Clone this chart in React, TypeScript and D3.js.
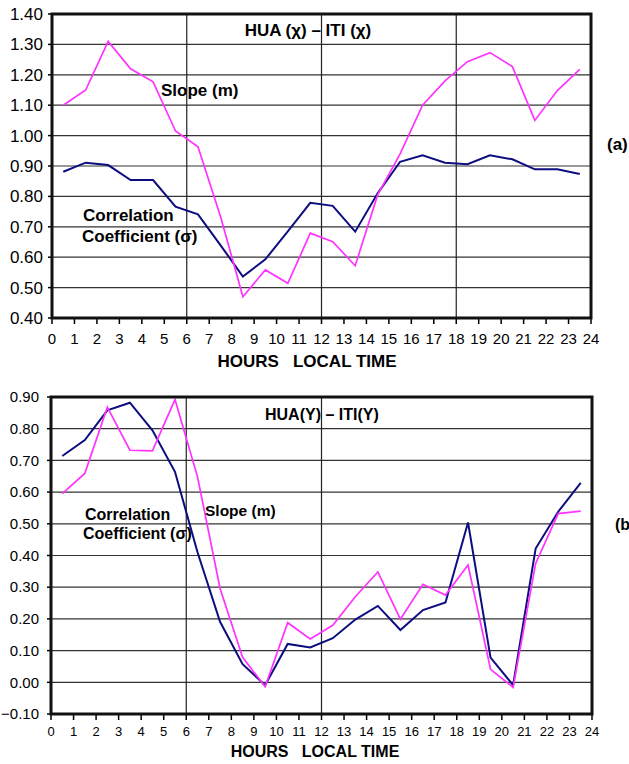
import React, { useEffect, useRef } from 'react';
import * as d3 from 'd3';

// half-hour centred samples, hours local time
const hours = [0.5, 1.5, 2.5, 3.5, 4.5, 5.5, 6.5, 7.5, 8.5, 9.5, 10.5, 11.5, 12.5, 13.5, 14.5, 15.5, 16.5, 17.5, 18.5, 19.5, 20.5, 21.5, 22.5, 23.5];
const hourTicks = [0, 1, 2, 3, 4, 5, 6, 7, 8, 9, 10, 11, 12, 13, 14, 15, 16, 17, 18, 19, 20, 21, 22, 23, 24];

// (a) HUA(X) - ITI(X)
const slopeX = [1.10, 1.15, 1.31, 1.22, 1.177, 1.015, 0.963, 0.735, 0.47, 0.558, 0.514, 0.679, 0.651, 0.572, 0.805, 0.94, 1.10, 1.18, 1.243, 1.273, 1.227, 1.05, 1.148, 1.218];
const corrX = [0.881, 0.911, 0.903, 0.854, 0.854, 0.766, 0.741, 0.64, 0.536, 0.593, 0.685, 0.779, 0.769, 0.684, 0.81, 0.914, 0.935, 0.911, 0.906, 0.935, 0.922, 0.889, 0.889, 0.874];
const yTicksX = [1.4, 1.3, 1.2, 1.1, 1.0, 0.9, 0.8, 0.7, 0.6, 0.5, 0.4];

// (b) HUA(Y) - ITI(Y)
const slopeY = [0.595, 0.659, 0.868, 0.732, 0.73, 0.892, 0.648, 0.296, 0.079, -0.014, 0.188, 0.137, 0.18, 0.27, 0.348, 0.199, 0.309, 0.275, 0.37, 0.041, -0.016, 0.375, 0.532, 0.54];
const corrY = [0.714, 0.764, 0.858, 0.882, 0.795, 0.664, 0.41, 0.191, 0.057, -0.009, 0.121, 0.11, 0.139, 0.198, 0.241, 0.165, 0.228, 0.252, 0.504, 0.078, -0.009, 0.422, 0.538, 0.629];
const yTicksY = [0.9, 0.8, 0.7, 0.6, 0.5, 0.4, 0.3, 0.2, 0.1, 0.0, -0.1];

const FONT = 'Liberation Sans, Arial, sans-serif';

interface TextSpec {
  text: string;
  x: number;
  y: number;
  size: number;
  anchor?: string;
}

interface PanelSpec {
  left: number;
  right: number;
  top: number;
  bottom: number;
  yTicks: number[];
  slope: number[];
  corr: number[];
  vLines: number[];
  tickSize: number;
  yLabelGap: number;
  xLabelY: number;
  texts: TextSpec[];
}

function drawPanel(svg: d3.Selection<SVGSVGElement, unknown, null, undefined>, p: PanelSpec) {
  const g = svg.append('g');
  const x = d3.scaleLinear().domain([0, 24]).range([p.left, p.right]);
  const y = d3.scaleLinear().domain([d3.min(p.yTicks)!, d3.max(p.yTicks)!]).range([p.bottom, p.top]);

  // horizontal grid
  g.selectAll('.hgrid')
    .data(p.yTicks)
    .enter()
    .append('line')
    .attr('x1', p.left)
    .attr('x2', p.right)
    .attr('y1', d => y(d))
    .attr('y2', d => y(d))
    .attr('stroke', '#333')
    .attr('stroke-width', 1.2);

  // vertical guide lines
  g.selectAll('.vgrid')
    .data(p.vLines)
    .enter()
    .append('line')
    .attr('x1', d => x(d))
    .attr('x2', d => x(d))
    .attr('y1', p.top)
    .attr('y2', p.bottom)
    .attr('stroke', '#222')
    .attr('stroke-width', 1.2);

  // y ticks + labels
  g.selectAll('.ytick')
    .data(p.yTicks)
    .enter()
    .append('line')
    .attr('x1', p.left - 4)
    .attr('x2', p.left)
    .attr('y1', d => y(d))
    .attr('y2', d => y(d))
    .attr('stroke', '#000')
    .attr('stroke-width', 1.5);
  g.selectAll('.ylab')
    .data(p.yTicks)
    .enter()
    .append('text')
    .attr('x', p.left - p.yLabelGap)
    .attr('y', d => y(d))
    .attr('dy', '0.35em')
    .attr('text-anchor', 'end')
    .style('font-family', FONT)
    .style('font-size', `${p.tickSize + 2}px`)
    .text(d => d3.format('.2f')(d));

  // x ticks + labels
  g.selectAll('.xtick')
    .data(hourTicks)
    .enter()
    .append('line')
    .attr('x1', d => x(d))
    .attr('x2', d => x(d))
    .attr('y1', p.bottom)
    .attr('y2', p.bottom + 6)
    .attr('stroke', '#000')
    .attr('stroke-width', 1.5);
  g.selectAll('.xlab')
    .data(hourTicks)
    .enter()
    .append('text')
    .attr('x', d => x(d))
    .attr('y', p.xLabelY)
    .attr('dy', '0.35em')
    .attr('text-anchor', 'middle')
    .style('font-family', FONT)
    .style('font-size', `${p.tickSize}px`)
    .text(d => String(d));

  // series
  const line = d3.line<number>().x((_, i) => x(hours[i])).y(d => y(d));
  g.append('path')
    .attr('d', line(p.corr))
    .attr('fill', 'none')
    .attr('stroke', '#0d0d80')
    .attr('stroke-width', 2);
  g.append('path')
    .attr('d', line(p.slope))
    .attr('fill', 'none')
    .attr('stroke', '#ff33ff')
    .attr('stroke-width', 1.7);

  // frame
  g.append('rect')
    .attr('x', p.left)
    .attr('y', p.top)
    .attr('width', p.right - p.left)
    .attr('height', p.bottom - p.top)
    .attr('fill', 'none')
    .attr('stroke', '#111')
    .attr('stroke-width', 3);

  p.texts.forEach(t => {
    g.append('text')
      .attr('x', t.x)
      .attr('y', t.y)
      .attr('text-anchor', t.anchor || 'start')
      .attr('xml:space', 'preserve')
      .style('white-space', 'pre')
      .style('font-family', FONT)
      .style('font-weight', 'bold')
      .style('font-size', `${t.size}px`)
      .text(t.text);
  });
}

const App: React.FC = () => {
  const ref = useRef<SVGSVGElement | null>(null);

  useEffect(() => {
    if (!ref.current) return;
    const svg = d3.select(ref.current);
    svg.selectAll('*').remove();

    drawPanel(svg, {
      left: 52,
      right: 591,
      top: 14,
      bottom: 318,
      yTicks: yTicksX,
      slope: slopeX,
      corr: corrX,
      vLines: [6, 12, 18],
      tickSize: 15,
      yLabelGap: 9,
      xLabelY: 339,
      texts: [
        { text: 'HUA (χ) – ITI (χ)', x: 308, y: 36, size: 17, anchor: 'middle' },
        { text: 'Slope (m)', x: 161, y: 96, size: 17 },
        { text: 'Correlation', x: 83, y: 221, size: 17 },
        { text: 'Coefficient (σ)', x: 82, y: 242, size: 17 },
        { text: '(a)', x: 607, y: 150, size: 17 },
        { text: 'HOURS   LOCAL TIME', x: 307, y: 367, size: 17, anchor: 'middle' },
      ],
    });

    drawPanel(svg, {
      left: 51,
      right: 592,
      top: 397,
      bottom: 714,
      yTicks: yTicksY,
      slope: slopeY,
      corr: corrY,
      vLines: [6, 12],
      tickSize: 13,
      yLabelGap: 12,
      xLabelY: 731,
      texts: [
        { text: 'HUA(Y) – ITI(Y)', x: 265, y: 420, size: 16 },
        { text: 'Slope (m)', x: 205, y: 516, size: 15.5 },
        { text: 'Correlation', x: 85, y: 520, size: 16 },
        { text: 'Coefficient (σ)', x: 83, y: 539, size: 16 },
        { text: '(b)', x: 615, y: 530, size: 16 },
        { text: 'HOURS   LOCAL TIME', x: 315, y: 757, size: 16, anchor: 'middle' },
      ],
    });
  }, []);

  return (
    <svg
      ref={ref}
      width={629}
      height={764}
      style={{ position: 'absolute', left: 0, top: 0, background: '#fff' }}
    />
  );
};

export default App;
